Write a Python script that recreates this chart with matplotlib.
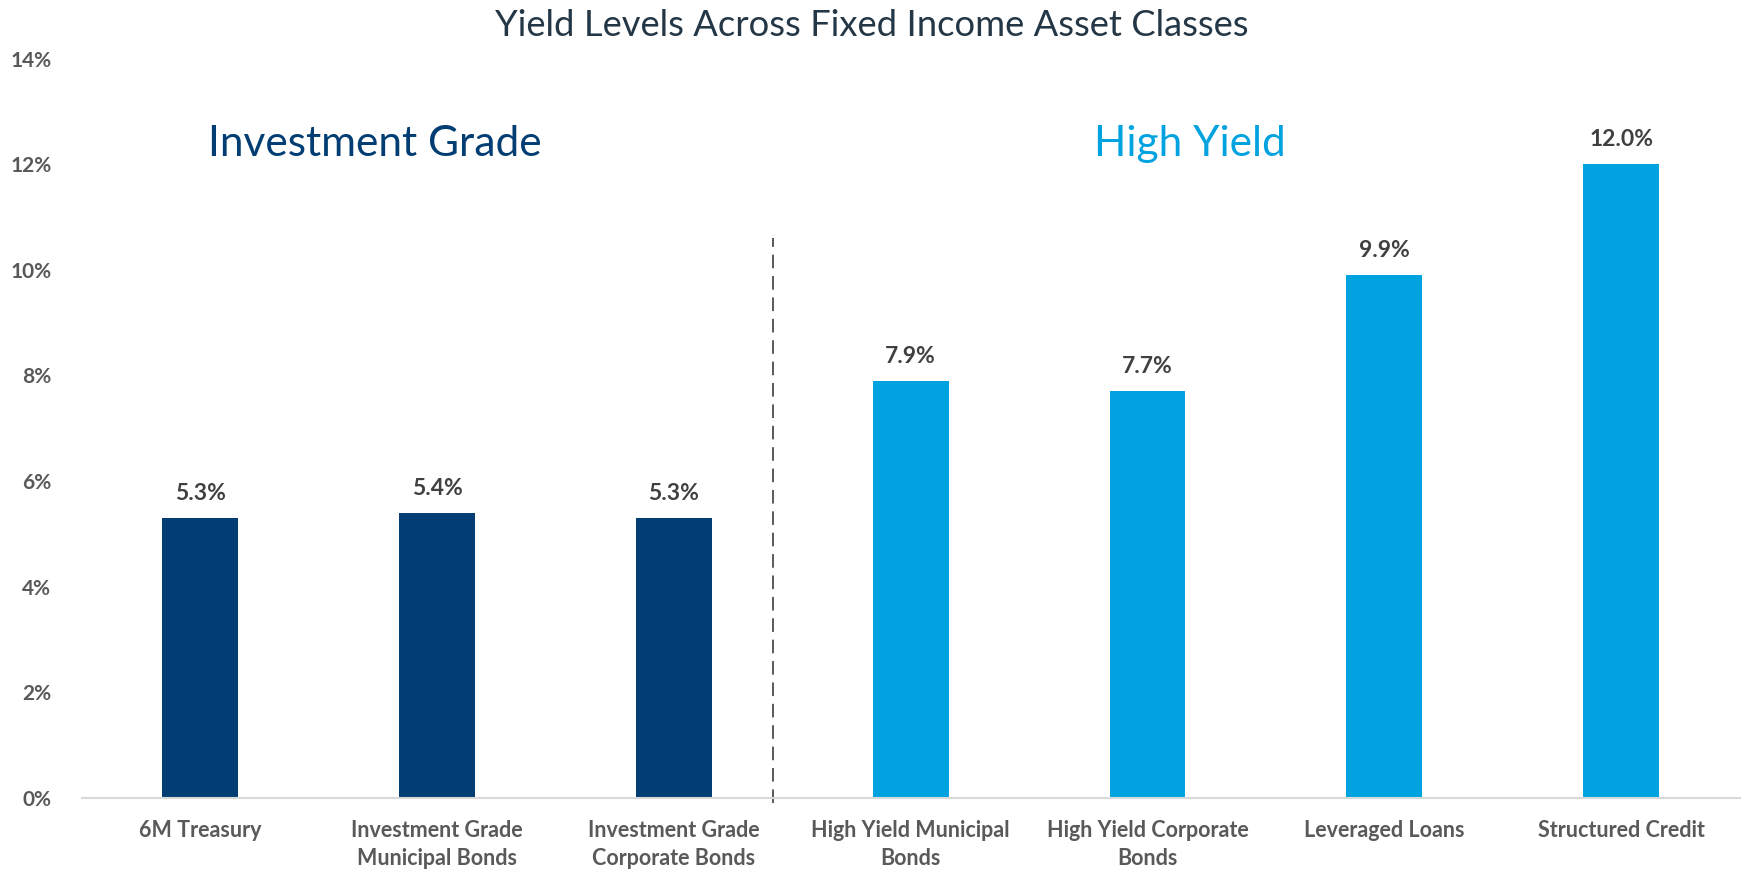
import matplotlib.pyplot as plt

plt.rcParams['font.family'] = ['Lato', 'DejaVu Sans']

# data
categories = ['6M Treasury', 'Investment Grade\nMunicipal Bonds', 'Investment Grade\nCorporate Bonds',
              'High Yield Municipal\nBonds', 'High Yield Corporate\nBonds', 'Leveraged Loans',
              'Structured Credit']
yields = [5.3, 5.4, 5.3, 7.9, 7.7, 9.9, 12.0]
groups = ['IG', 'IG', 'IG', 'HY', 'HY', 'HY', 'HY']
yticks = [0, 2, 4, 6, 8, 10, 12, 14]

NAVY = '#023e73'
BLUE = '#00a3e0'
colors = [NAVY if g == 'IG' else BLUE for g in groups]

fig = plt.figure(figsize=(17.43, 8.72), dpi=100)
ax = fig.add_axes([0.047, 0.0852, 0.951, 0.8477])

x = range(len(categories))
bars = ax.bar(x, yields, width=0.32, color=colors)

for xi, v in zip(x, yields):
    ax.annotate(f'{v:.1f}%', (xi, v), xytext=(0, 10), textcoords='offset points',
                ha='center', va='bottom', fontsize=16.5, fontweight='bold', color='#404040')

ax.set_xlim(-0.5, len(categories) - 0.5)
ax.set_ylim(0, 14)
ax.set_yticks(yticks)
ax.set_yticklabels([f'{t}%' for t in yticks])
ax.set_xticks(list(x))
ax.set_xticklabels(categories, linespacing=1.4)

ax.tick_params(axis='y', length=0, pad=22, labelsize=15, labelcolor='#595959')
ax.tick_params(axis='x', length=0, pad=16, labelsize=15.5, labelcolor='#595959')
for lab in ax.get_xticklabels() + ax.get_yticklabels():
    lab.set_fontweight('bold')

for s in ['top', 'right', 'left']:
    ax.spines[s].set_visible(False)
ax.spines['bottom'].set_color('#d9d9d9')
ax.spines['bottom'].set_linewidth(1.5)

# divider between the groups
ax.plot([2.42, 2.42], [-0.1, 10.6], color='#595959', lw=1.4, ls=(0, (7, 4)), clip_on=False)

ax.text(0.737, 12.38, 'Investment Grade', ha='center', va='center', fontsize=30.5, color=NAVY)
ax.text(4.18, 12.38, 'High Yield', ha='center', va='center', fontsize=30.5, color=BLUE)

fig.suptitle('Yield Levels Across Fixed Income Asset Classes', x=0.5, y=0.99, va='top',
             fontsize=26.2, color='#243746')

fig.savefig('out.png', dpi=100)
